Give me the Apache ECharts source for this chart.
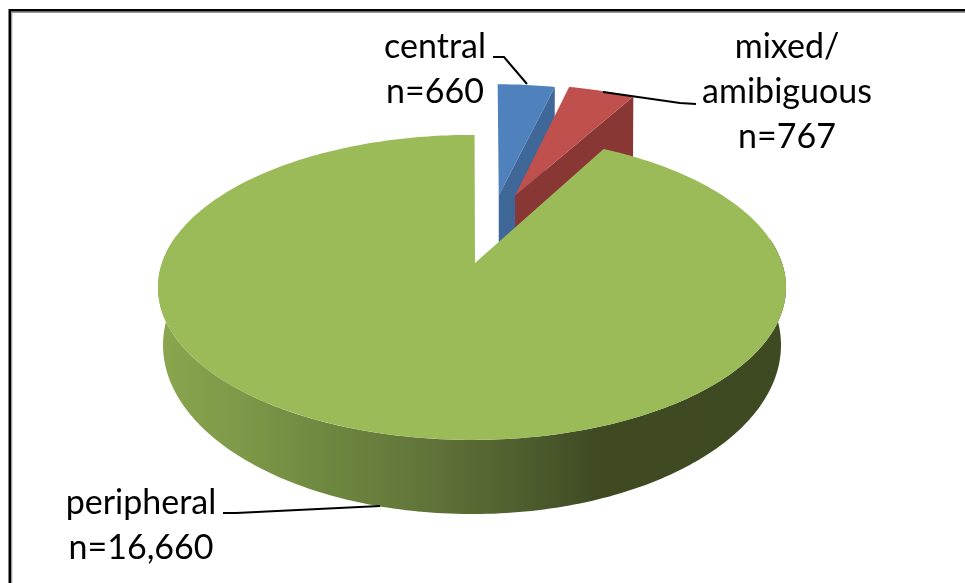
<!DOCTYPE html>
<html>
<head>
<meta charset="utf-8">
<style>html,body{margin:0;padding:0;background:#fff}#chart{width:965px;height:583px}</style>
<script src="https://cdn.jsdelivr.net/npm/echarts@6/dist/echarts.min.js"></script>
</head>
<body>
<div id="chart"></div>
<script>
// Case counts by tumour location
const categories = ['central', 'mixed/\namibiguous', 'peripheral'];
const counts = [660, 767, 16660];

const topColors = ['#4F81BD', '#C0504D', '#9BBB59'];
const sideColors = ['#3F6797', '#893735', null];
// Slices are pulled away from the pie centre by this much, in radius units
const pullX = [0.093, 0.15, 0];
const pullY = [0.49, 0.49, 0];
const sideDepth = [1.7, 1.7, 1];
const sideLean = [0.12, 0.12, 1];
const apexShift = [0, 0, 3];
const firstSliceAngle = 0.55;

// Perspective model of the two pie faces
const topFace = { x: 472, y: 263, R: 310, s: 148.6, k: 0.16 };
const baseFace = { x: 472, y: 318, R: 305, s: 164.7, k: 0.16 };

function project(face, X, Y) {
  const d = 1 + face.k * Y;
  return [face.x + face.R * X / d, face.y - face.s * Y / d];
}
function rimPoint(face, i, deg) {
  const a = (deg + firstSliceAngle) * Math.PI / 180;
  return project(face, pullX[i] + Math.sin(a), pullY[i] + Math.cos(a));
}
function sidePoint(i, deg) {
  const t = rimPoint(topFace, i, deg);
  const b = rimPoint(baseFace, i, deg);
  return [t[0] + (b[0] - t[0]) * sideLean[i], t[1] + (b[1] - t[1]) * sideDepth[i]];
}
function arc(fn, from, to) {
  const pts = [];
  const n = Math.max(2, Math.ceil(Math.abs(to - from)));
  for (let j = 0; j <= n; j++) pts.push(fn(from + (to - from) * j / n));
  return pts;
}

const total = counts.reduce((a, b) => a + b, 0);
const starts = [];
counts.reduce((acc, v, i) => { starts[i] = acc; return acc + v / total * 360; }, 0);

const greenSide = {
  type: 'linear', x: 0, y: 0, x2: 1, y2: 0,
  colorStops: [
    { offset: 0, color: '#8AA64E' },
    { offset: 0.12, color: '#7F9A49' },
    { offset: 0.25, color: '#708A41' },
    { offset: 0.445, color: '#5F7238' },
    { offset: 0.58, color: '#4E5E2E' },
    { offset: 0.7, color: '#3F4A23' },
    { offset: 1, color: '#3E4A22' }
  ]
};

function renderSlice(params) {
  const i = params.dataIndex;
  const from = starts[i];
  const to = from + counts[i] / total * 360;
  const p = project(topFace, pullX[i], pullY[i]);
  const centre = [p[0] + apexShift[i], p[1]];
  const topPts = [centre].concat(arc(d => rimPoint(topFace, i, d), from, to));
  const children = [];
  if (i < 2) {
    // Cut face on the clockwise side of the pulled-out wedge
    const drop = project(baseFace, pullX[i], pullY[i])[1] - p[1];
    children.push({
      type: 'polygon',
      shape: { points: [rimPoint(topFace, i, to), sidePoint(i, to), [centre[0], centre[1] + drop * sideDepth[i]], centre] },
      style: { fill: sideColors[i] }
    });
  } else {
    // Outer wall of the main slice, front half only
    const a = 80, b = 280;
    const wall = arc(d => rimPoint(topFace, i, d), a, b)
      .concat(arc(d => sidePoint(i, d), b, a));
    children.push({ type: 'polygon', shape: { points: wall }, style: { fill: greenSide } });
  }
  children.push({ type: 'polygon', shape: { points: topPts }, style: { fill: topColors[i] } });
  return { type: 'group', children };
}

function labelText(i) {
  return categories[i] + '\nn=' + counts[i].toLocaleString('en-US');
}
const labelFont = { fontFamily: 'Lato', fontSize: 34, lineHeight: 45, fill: '#000', textAlign: 'center', textVerticalAlign: 'top' };

function leader(points) {
  return { type: 'polyline', shape: { points }, style: { stroke: '#000', lineWidth: 2, fill: null }, silent: true, z: 20 };
}
function label(i, x, y) {
  return { type: 'text', x, y, style: Object.assign({ text: labelText(i) }, labelFont), z: 20 };
}

const chart = echarts.init(document.getElementById('chart'), null, { renderer: 'canvas' });
chart.setOption({
  animation: false,
  backgroundColor: '#fff',
  xAxis: { show: false, min: 0, max: 1 },
  yAxis: { show: false, min: 0, max: 1 },
  grid: { left: 0, right: 0, top: 0, bottom: 0 },
  series: [{
    type: 'custom',
    coordinateSystem: 'none',
    renderItem: renderSlice,
    data: counts.map((v, i) => ({ name: categories[i], value: v }))
  }],
  graphic: [
    // Chart frame: open on the right and along the bottom
    { type: 'polyline', shape: { points: [[11.5, 583], [11.5, 12.25], [965, 12.25]] }, style: { stroke: '#999', lineWidth: 1.5, fill: null }, z: 19 },
    { type: 'polyline', shape: { points: [[9.75, 583], [9.75, 10.25], [965, 10.25]] }, style: { stroke: '#000', lineWidth: 2.5, fill: null }, z: 20 },
    leader([[493, 57], [504, 57], [527, 84]]),
    leader([[603, 92], [680, 103], [696, 104]]),
    leader([[223, 513], [236, 513], [380, 506]]),
    label(0, 435, 25),
    label(1, 787, 25),
    label(2, 141, 481)
  ]
});
</script>
</body>
</html>
